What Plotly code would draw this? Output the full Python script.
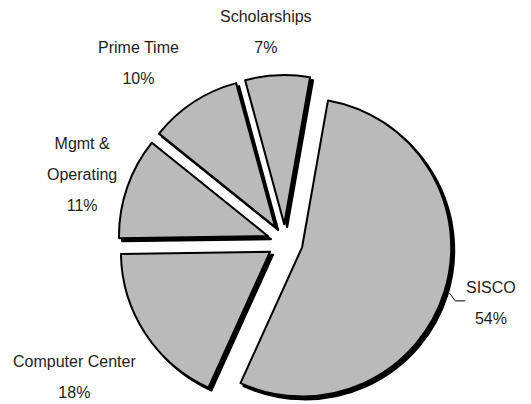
import math
import plotly.graph_objects as go

# Data
categories = ["SISCO", "Computer Center", "Mgmt &\nOperating", "Prime Time", "Scholarships"]
values = [54, 18, 11, 10, 7]

# Layout / style
W, H = 531, 404
ROT = 10          # start angle of first slice, degrees clockwise from 12 o'clock
PULL = 0.12
MAIN_BOX = (110, 444, 67, 401)     # pie box in figure px (left, right, top, bottom)
SHADOW_BOX = (113, 447, 70, 404)   # same box, offset for the drop shadow
LABEL_GAP = 20
LABEL_NUDGE = [(1.6, 5.6), (8, 7.8), (10.3, -6.5), (-2.85, 2), (-10.5, 1.5)]  # px tweaks

total = sum(values)

def dom(box):
    x0, x1, top, bottom = box
    return dict(x=[x0 / W, x1 / W], y=[1 - bottom / H, 1 - top / H])

def esc(s):
    return s.replace("&", "&amp;")

labels = [c.replace("\n", " ") for c in categories]
common = dict(labels=labels, values=values, sort=False, direction="clockwise", rotation=ROT,
              pull=[PULL] * len(values), showlegend=False, textinfo="none")

shadow = go.Pie(**common, domain=dom(SHADOW_BOX),
                marker=dict(colors=["#000000"] * len(values), line=dict(color="#000000", width=2)),
                hoverinfo="skip")
main = go.Pie(**common, domain=dom(MAIN_BOX),
              marker=dict(colors=["#bababa"] * len(values), line=dict(color="#000000", width=2)))

fig = go.Figure([shadow, main])

# geometry of main pie (figure px)
cx = (MAIN_BOX[0] + MAIN_BOX[1]) / 2
cy = (MAIN_BOX[2] + MAIN_BOX[3]) / 2
r = min(MAIN_BOX[1] - MAIN_BOX[0], MAIN_BOX[3] - MAIN_BOX[2]) / 2 / (1 + PULL)
D = r * (1 + PULL) + LABEL_GAP

cum = 0
font = dict(family="Liberation Sans, Arial, sans-serif", size=24, color="#1e1e1e")
for c, v, (nx, ny) in zip(categories, values, LABEL_NUDGE):
    mid = math.radians(ROT + (cum + v / 2) / total * 360)
    cum += v
    ux, uy = math.sin(mid), -math.cos(mid)
    ax, ay = cx + D * ux + nx, cy + D * uy + ny
    xanchor = "left" if ux > 0.4 else ("right" if ux < -0.4 else "center")
    yanchor = "top" if uy > 0.4 else ("bottom" if uy < -0.4 else "middle")
    lines = c.split("\n") + [f"{v / total:.0%}"]
    txt = "<br>".join(f"<span style='font-size:16px'>{esc(l)}</span>" for l in lines)
    fig.add_annotation(x=ax / W, y=1 - ay / H, xref="paper", yref="paper", text=txt,
                       showarrow=False, xanchor=xanchor, yanchor=yanchor, align="center",
                       font=font, borderpad=0)
    if c == "SISCO":
        pcx, pcy = cx + r * PULL * ux, cy + r * PULL * uy
        p1 = (pcx + (r + 5) * ux, pcy + (r + 5) * uy)
        p2 = (p1[0] + 6, p1[1] + 8)
        p3 = (p2[0] + 10, p2[1])
        path = "M " + " L ".join(f"{x / W},{1 - y / H}" for x, y in (p1, p2, p3))
        fig.add_shape(type="path", xref="paper", yref="paper", path=path,
                      line=dict(color="#000000", width=1))

fig.update_layout(width=W, height=H, margin=dict(l=0, r=0, t=0, b=0),
                  paper_bgcolor="white", plot_bgcolor="white")
fig.write_html("out.html")
